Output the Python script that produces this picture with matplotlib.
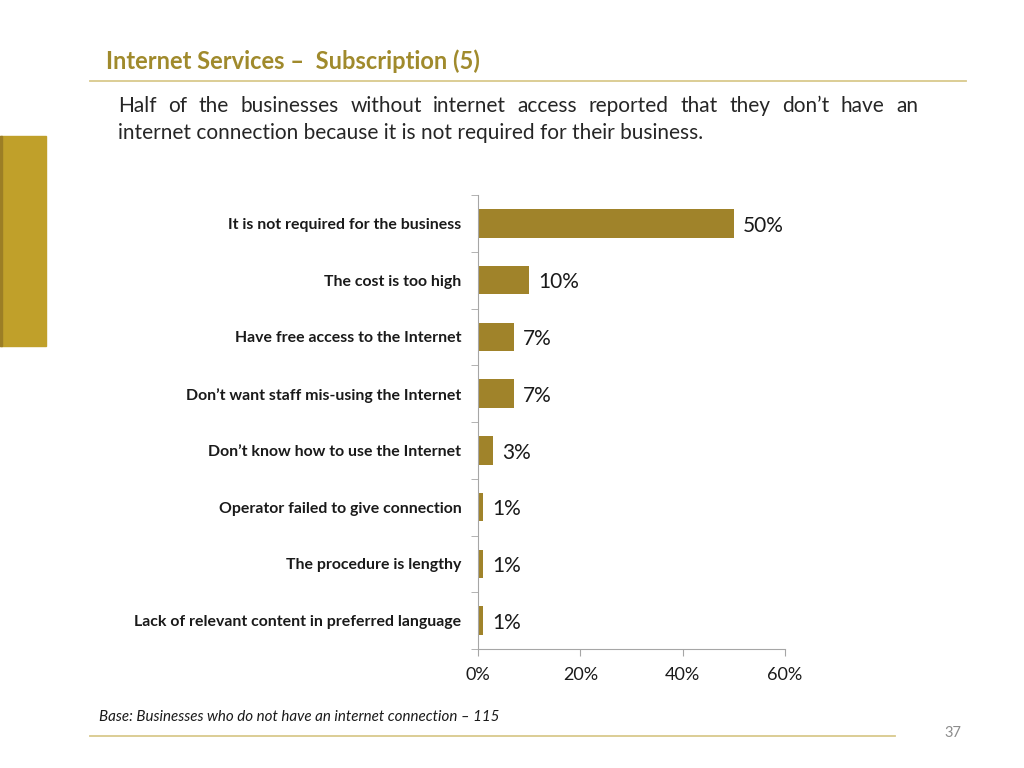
import numpy as np
import matplotlib.pyplot as plt
from matplotlib.patches import Rectangle
from matplotlib.lines import Line2D

plt.rcParams['font.family'] = ['Lato', 'DejaVu Sans']

categories = ['It is not required for the business',
              'The cost is too high',
              'Have free access to the Internet',
              'Don\u2019t want staff mis-using the Internet',
              'Don\u2019t know how to use the Internet',
              'Operator failed to give connection',
              'The procedure is lengthy',
              'Lack of relevant content in preferred language']
values = [50, 10, 7, 7, 3, 1, 1, 1]
xticks = [0, 20, 40, 60]

gold = '#A0832A'
title_col = '#A08A2C'

fig = plt.figure(figsize=(10.24, 7.68), dpi=100)
W, H = 1024, 768

def fx(px):
    return px / W

def fy(py):
    return 1 - py / H

# left decoration block
fig.patches.append(Rectangle((0, fy(346)), fx(46), (346 - 136) / H,
                             transform=fig.transFigure, color='#C0A02A', zorder=0))
fig.patches.append(Rectangle((0, fy(346)), fx(2), (346 - 136) / H,
                             transform=fig.transFigure, color='#9C7E25', zorder=1))

# title and rules
fig.text(fx(106), fy(61), 'Internet Services \u2013  Subscription (5)', fontsize=17,
         fontweight='bold', color=title_col, va='center', ha='left')
fig.add_artist(Line2D([fx(90), fx(966)], [fy(81), fy(81)], color='#D9C98C', lw=1.3))
fig.add_artist(Line2D([fx(90), fx(895)], [fy(736), fy(736)], color='#D9C98C', lw=1.3))

# body text, first line justified
line1 = 'Half of the businesses without internet access reported that they don\u2019t have an'
line2 = 'internet connection because it is not required for their business.'
words = line1.split()
renderer = fig.canvas.get_renderer()
arts = [fig.text(0, fy(112), w, fontsize=15, color='#262626', va='baseline') for w in words]
widths = [a.get_window_extent(renderer).width for a in arts]
gap = (918 - 118 - sum(widths)) / (len(words) - 1)
xpos = 118
for a, w in zip(arts, widths):
    a.set_x(fx(xpos))
    xpos += w + gap
fig.text(fx(118), fy(139), line2, fontsize=15, color='#262626', va='baseline')

# chart
ax = fig.add_axes([fx(478), fy(649), fx(785 - 478), (649 - 195) / H])
y = np.arange(len(categories))
ax.barh(y, values, height=0.5, color=gold)
for yi, v in zip(y, values):
    ax.text(v + 1.7, yi + 0.04, f'{v}%', va='center', ha='left', fontsize=15, color='#1a1a1a')
ax.set_ylim(len(categories) - 0.5, -0.5)
ax.set_xlim(0, 60)
ax.set_yticks(y)
ax.set_yticklabels(categories, fontsize=11.4, fontweight='bold', color='#1a1a1a')
ax.set_yticks(np.arange(len(categories) + 1) - 0.5, minor=True)
ax.tick_params(axis='y', which='major', length=0, pad=12)
ax.tick_params(axis='y', which='minor', length=5, color='#A6A6A6')
ax.set_xticks(xticks)
ax.set_xticklabels([f'{t}%' for t in xticks], fontsize=13, color='#1a1a1a')
ax.tick_params(axis='x', length=5, color='#A6A6A6', pad=8)
for s in ['top', 'right']:
    ax.spines[s].set_visible(False)
for s in ['left', 'bottom']:
    ax.spines[s].set_color('#A6A6A6')

# footer
fig.text(fx(99), fy(717), 'Base: Businesses who do not have an internet connection \u2013 115',
         fontsize=10.9, style='italic', color='#1a1a1a', va='center')
fig.text(fx(953), fy(733), '37', fontsize=10.5, color='#8C8C8C', va='center', ha='center')

fig.savefig('out.png', dpi=100)
